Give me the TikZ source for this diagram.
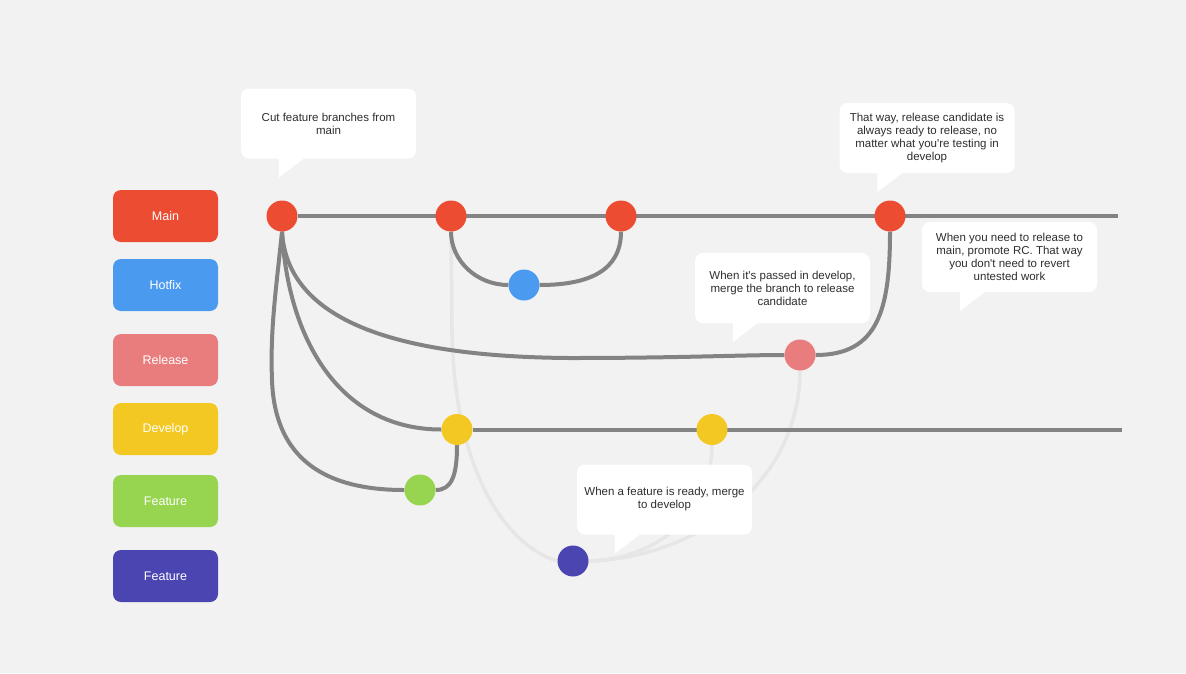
\documentclass[tikz,border=0pt]{standalone}
\usepackage{fontspec}
\setmainfont{Liberation Sans}
\usetikzlibrary{calc}
\definecolor{bg}{HTML}{F2F2F2}
\definecolor{cmain}{HTML}{EB4C32}
\definecolor{chot}{HTML}{4A9BEF}
\definecolor{crel}{HTML}{E97D7E}
\definecolor{cdev}{HTML}{F4C822}
\definecolor{cfeat}{HTML}{97D44F}
\definecolor{cfeatb}{HTML}{4B45B2}
\definecolor{dkline}{HTML}{838383}
\definecolor{ltline}{HTML}{E6E6E6}
\definecolor{txt}{HTML}{2E2E2E}
\begin{document}
\begin{tikzpicture}[x=1pt,y=-1pt,
  lbl/.style={rectangle,rounded corners=8pt,minimum width=105pt,minimum height=52pt,inner sep=0pt,text=white,font=\fontsize{12.5}{14}\selectfont},
  commit/.style={circle,minimum size=31pt,inner sep=0pt},
  dk/.style={draw=dkline,line width=4pt},
  lt/.style={draw=ltline,line width=3.5pt},
  callout/.style={rectangle,rounded corners=8pt,fill=white,minimum width=175pt,minimum height=70pt,inner sep=0pt,align=center,text=txt,font=\fontsize{11.5}{13}\selectfont}]
\fill[bg] (0,0) rectangle (1186,673);
\useasboundingbox (0,0) rectangle (1186,673);
% labels
\node[lbl,fill=cmain] (lmain) at (165.5,216) {Main};
\node[lbl,fill=chot] (lhot) at (165.5,285) {Hotfix};
\node[lbl,fill=crel] (lrel) at (165.5,360) {Release};
\node[lbl,fill=cdev] (ldev) at (165.5,429) {Develop};
\node[lbl,fill=cfeat] (lfeat) at (165.5,501) {Feature};
\node[lbl,fill=cfeatb] (lfeatb) at (165.5,576) {Feature};
% line ends
\coordinate (mend) at (1118,216);
\coordinate (dend) at (1122,429.5);
% commits (placed first, filled later)
\path node[commit] (m1) at (282,216) {}
      node[commit] (m2) at (451,216) {}
      node[commit] (m3) at (621,216) {}
      node[commit] (m4) at (890,216) {}
      node[commit] (h) at (524,285) {}
      node[commit] (r) at (800,355) {}
      node[commit] (y1) at (457,429.5) {}
      node[commit] (y2) at (712,429.5) {}
      node[commit] (g) at (420,490) {}
      node[commit] (p) at (573,561) {};
% light lines
\draw[lt] (m2.south) -- (452,330) .. controls (454,470) and (505,545) .. (p.west);
\draw[lt] (y2.south) .. controls (711,520) and (650,560) .. (p.east);
\draw[lt] (r.south) .. controls (800,480) and (700,558) .. (p.east);
% dark lines
\draw[dk] (m1.east) -- (mend);
\draw[dk] (y1.east) -- (dend);
\draw[dk] (m2.south) .. controls (451,261) and (477,285) .. (h.west);
\draw[dk] (h.east) .. controls (590,285) and (621,270) .. (m3.south);
\draw[dk] (m1.south) .. controls (288,330) and (420,357) .. (570,358) .. controls (680,358) and (740,355) .. (r.west);
\draw[dk] (m1.south) .. controls (288,340) and (340,429.5) .. (y1.west);
\draw[dk] (m1.south) .. controls (276,290) and (270,330) .. (272,380) .. controls (275,470) and (340,490) .. (g.west);
\draw[dk] (g.east) .. controls (452,490) and (457,475) .. (y1.south);
\draw[dk] (r.east) .. controls (878,355) and (890,310) .. (m4.south);
% commits
\fill[cmain] (m1) circle (15.5) (m2) circle (15.5) (m3) circle (15.5) (m4) circle (15.5);
\fill[chot] (h) circle (15.5);
\fill[crel] (r) circle (15.5);
\fill[cdev] (y1) circle (15.5) (y2) circle (15.5);
\fill[cfeat] (g) circle (15.5);
\fill[cfeatb] (p) circle (15.5);
% callouts
\node[callout] (c1) at (328.5,123.5) {Cut feature branches from\\main};
\node[callout] (c2) at (927,138) {That way, release candidate is\\always ready to release, no\\matter what you\textquotesingle re testing in\\develop};
\node[callout] (c3) at (1009.5,257) {When you need to release to\\main, promote RC. That way\\you don\textquotesingle t need to revert\\untested work};
\node[callout] (c4) at (782.5,288) {When it\textquotesingle s passed in develop,\\merge the branch to release\\candidate};
\node[callout] (c5) at (664.5,499.5) {When a feature is ready, merge\\to develop};
\foreach \c in {c1,c2,c3,c4,c5}
  \fill[white] ($(\c.south west)+(38,-1)$) -- ($(\c.south west)+(64,-1)$) -- ($(\c.south west)+(38,19)$) -- cycle;
\end{tikzpicture}
\end{document}
